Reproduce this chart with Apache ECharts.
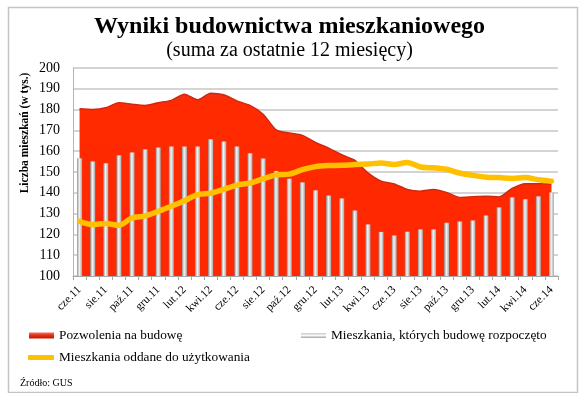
<!DOCTYPE html>
<html><head><meta charset="utf-8">
<script src="https://cdn.jsdelivr.net/npm/echarts@6/dist/echarts.min.js"></script>
<style>html,body{margin:0;padding:0;background:#fff}#c{width:579px;height:393px}</style>
</head><body><div id="c"></div>
<script>
var categories = ["cze.11","lip.11","sie.11","wrz.11","paź.11","lis.11","gru.11","sty.12","lut.12","mar.12","kwi.12","maj.12",
"cze.12","lip.12","sie.12","wrz.12","paź.12","lis.12","gru.12","sty.13","lut.13","mar.13","kwi.13","maj.13",
"cze.13","lip.13","sie.13","wrz.13","paź.13","lis.13","gru.13","sty.14","lut.14","mar.14","kwi.14","maj.14","cze.14"];
var pozwolenia = [180.4,180.1,180.9,183.3,182.6,182.0,183.3,184.4,187.4,184.7,187.9,187.1,
184.2,182.0,177.8,170.3,168.7,167.6,164.2,161.5,158.3,155.6,149.6,145.6,
144.3,141.6,140.8,141.6,140.2,137.8,138.1,138.4,138.0,142.1,144.4,144.4,144.4];
var rozpoczete = [156.6,155.1,154.2,158.0,159.4,160.9,161.8,162.3,162.3,162.3,165.7,164.7,
162.3,159.0,156.5,150.5,146.8,145.0,141.2,138.7,137.3,131.5,124.8,121.2,
119.5,121.3,122.4,122.4,125.6,126.2,126.7,129.1,133.0,137.8,136.9,138.3,140.2];
var oddane = [126.3,124.7,125.2,124.4,127.9,128.9,131.1,133.5,136.2,139.1,139.8,141.6,
143.7,144.7,146.7,148.6,149.0,151.1,152.6,153.1,153.2,153.6,153.8,154.3,
153.6,154.6,152.4,152.0,151.3,149.5,148.4,147.5,147.3,146.9,147.3,146.3,145.6];
var yTicks = [100,110,120,130,140,150,160,170,180,190,200];

var serif = "'Liberation Serif','Times New Roman',serif";
var names = ["Pozwolenia na budowę","Mieszkania, których budowę rozpoczęto","Mieszkania oddane do użytkowania"];
var redGrad = new echarts.graphic.LinearGradient(0,0,0,1,[{offset:0,color:'#e8361a'},{offset:0.04,color:'#ff2a00'},{offset:1,color:'#ff2800'}]);
var barGrad = new echarts.graphic.LinearGradient(0,0,1,0,[{offset:0,color:'#8e8e8e'},{offset:0.45,color:'#f4f4f4'},{offset:1,color:'#a8a8a8'}]);
var legRed = new echarts.graphic.LinearGradient(0,0,0,1,[{offset:0,color:'#f07060'},{offset:0.5,color:'#e82a10'},{offset:1,color:'#c01800'}]);
var legGray = new echarts.graphic.LinearGradient(0,0,0,1,[{offset:0,color:'#c8c8c8'},{offset:0.5,color:'#f8f8f8'},{offset:1,color:'#a0a0a0'}]);

var chart = echarts.init(document.getElementById('c'), null, {renderer:'canvas'});
chart.setOption({
  animation:false,
  title:[
    {text:'Wyniki budownictwa mieszkaniowego', left:'center', top:10,
     textStyle:{fontFamily:serif, fontWeight:'bold', fontSize:24, color:'#000'}},
    {text:'(suma za ostatnie 12 miesięcy)', left:'center', top:36,
     textStyle:{fontFamily:serif, fontWeight:'normal', fontSize:20, color:'#000'}},
    {text:'Źródło: GUS', left:15, top:373,
     textStyle:{fontFamily:serif, fontWeight:'normal', fontSize:10, color:'#000'}}
  ],
  graphic:[
    {type:'rect', left:6, top:5, shape:{width:569, height:385}, style:{fill:'none', stroke:'#c4c4c4', lineWidth:1.5}, z:-1},
    {type:'text', x:25, y:133, rotation:Math.PI/2,
     style:{text:'Liczba mieszkań (w tys.)', fontFamily:serif, fontWeight:'bold', fontSize:11.5, fill:'#000', align:'center', verticalAlign:'middle'}}
  ],
  legend:[
    {left:29, top:329, padding:0, itemWidth:25, itemHeight:6, icon:'rect',
     textStyle:{fontFamily:serif, fontSize:13.3, color:'#000'},
     data:[{name:names[0], itemStyle:{color:legRed}}]},
    {left:301, top:329, padding:0, itemWidth:25, itemHeight:5, icon:'rect',
     textStyle:{fontFamily:serif, fontSize:13.3, color:'#000'},
     data:[{name:names[1], itemStyle:{color:legGray}}]},
    {left:28, top:351, padding:0, itemWidth:26, itemHeight:5, icon:'roundRect',
     textStyle:{fontFamily:serif, fontSize:13.3, color:'#000'},
     data:[{name:names[2], itemStyle:{color:'#ffc000'}}]}
  ],
  grid:{left:73, right:21, top:68, bottom:117},
  xAxis:{type:'category', data:categories, boundaryGap:true,
    axisLine:{lineStyle:{color:'#a8a8a8', width:1}},
    axisTick:{show:true, length:4, interval:0, lineStyle:{color:'#a8a8a8'}},
    axisLabel:{interval:1, rotate:45, margin:12, fontFamily:serif, fontSize:11.5, color:'#000'}},
  yAxis:{type:'value', min:yTicks[0], max:yTicks[yTicks.length-1], interval:10,
    axisLine:{show:true, lineStyle:{color:'#b4b4b4', width:1}},
    axisTick:{show:false},
    axisLabel:{margin:13, fontFamily:serif, fontSize:14, color:'#000'},
    splitLine:{lineStyle:{color:'#c6c6c6', width:1.5}}},
  series:[
    {name:names[0], type:'line', data:pozwolenia, smooth:0.25, symbol:'none', z:1,
     lineStyle:{color:'#d02810', width:1.5},
     itemStyle:{color:'#ff2a00'},
     areaStyle:{color:redGrad, opacity:1}},
    {name:names[1], type:'bar', data:rozpoczete, barWidth:5, z:2,
     itemStyle:{color:barGrad}},
    {name:names[2], type:'line', data:oddane, smooth:0.3, symbol:'none', z:3,
     lineStyle:{color:'#ffc000', width:5.5, cap:'round', join:'round'},
     itemStyle:{color:'#ffc000'}}
  ]
});
</script></body></html>
